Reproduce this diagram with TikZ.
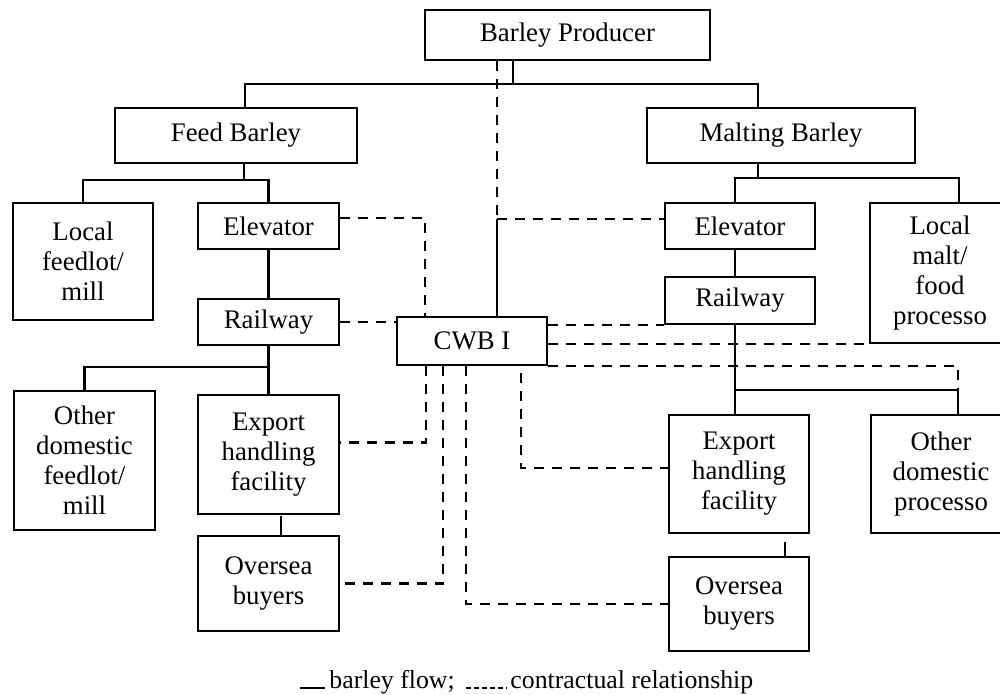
\documentclass[tikz,border=0pt]{standalone}
\usepackage{fontspec}
\setmainfont{Liberation Serif}
\usetikzlibrary{positioning}

\begin{document}
\begin{tikzpicture}[
  x=0.5pt,y=-0.5pt,
  font=\fontsize{13.4}{15}\selectfont,
  node distance=24pt,
  box/.style={draw,line width=1pt,inner sep=0pt,align=center},
  cell/.style={box,minimum width=70.5pt},
  flow/.style={line width=1.3pt},
  contract/.style={line width=1.3pt,dash pattern=on 5pt off 4pt},
  key/.style={anchor=base west,inner sep=0pt,font=\fontsize{12.9}{15}\selectfont}
]
\useasboundingbox (0,0) rectangle (1000,695);

% top of the chain
\node[box,minimum width=142.5pt,minimum height=25pt] (prod) at (567.5,35) {Barley Producer};
\node[box,minimum width=121pt,minimum height=27.5pt] (feed) at (236,135.5) {Feed Barley};
\node[box,minimum width=134pt,minimum height=27.5pt] (malt) at (781,135.5) {Malting Barley};

% feed barley side
\node[cell,minimum width=70pt,minimum height=58.5pt] (lfeed) at (83,261.5) {Local\\feedlot/\\mill};
\node[cell,minimum height=23pt] (lelev) at (268.5,226) {Elevator};
\node[cell,minimum height=23pt,below=of lelev] (lrail) {Railway};
\node[cell,minimum height=59.5pt,below=of lrail] (lexp) {Export\\handling\\facility};
\node[cell,minimum height=47.5pt,below=10pt of lexp] (lover) {Oversea\\buyers};
\node[cell,minimum height=69.5pt] (lother) at (84.5,460.5) {Other\\domestic\\feedlot/\\mill};

% the board
\node[box,minimum width=75pt,minimum height=24pt] (cwb) at (472,341) {CWB I};

% malting barley side
\node[box,minimum width=75pt,minimum height=23pt] (relev) at (740,226) {Elevator};
\node[box,minimum width=75pt,minimum height=23.5pt,below=13pt of relev] (rrail) {Railway};
\node[cell,minimum width=70pt,minimum height=70pt] (rlocal) at (940,273) {Local\\malt/\\food\\processo};
\node[cell,minimum width=70pt,minimum height=59pt] (rexp) at (739,474) {Export\\handling\\facility};
\node[cell,minimum width=70pt,minimum height=59pt,right=30pt of rexp] (rother) {Other\\domestic\\processo};
\node[cell,minimum width=70pt,minimum height=47pt,below=11pt of rexp] (rover) {Oversea\\buyers};

% barley flow
\coordinate (trunk) at (513,84);
\coordinate (feedtap) at (245,84);
\coordinate (malttap) at (758,84);
\draw[flow] (prod.south -| trunk) -- (trunk);
\draw[flow] (feed.north -| feedtap) -- (feedtap) -- (malttap) -- (malt.north -| malttap);

\coordinate (feedfork) at (244,180);
\draw[flow] (feed.south -| feedfork) -- (feedfork);
\draw[flow] (lfeed.north) |- (feedfork) -| (lelev.north);
\draw[flow] (lelev) -- (lrail);
\draw[flow] (lrail) -- (lexp);
\coordinate (railfork) at (268.5,367);
\draw[flow] (lother.north) |- (railfork);
\coordinate (lexptap) at (281,516);
\draw[flow] (lexptap) -- (lover.north -| lexptap);

\coordinate (maltfork) at (758,178);
\coordinate (maltleft) at (735,178);
\coordinate (maltright) at (959,178);
\draw[flow] (malt.south -| maltfork) -- (maltfork);
\draw[flow] (relev.north -| maltleft) -- (maltleft) -- (maltright) -- (rlocal.north -| maltright);
\draw[flow] (relev.south -| maltleft) -- (rrail.north -| maltleft);
\draw[flow] (rrail.south -| maltleft) -- (rexp.north -| maltleft);
\coordinate (rrailfork) at (735,390);
\coordinate (rothertap) at (958,390);
\draw[flow] (rrailfork) -- (rothertap) -- (rother.north -| rothertap);
\coordinate (rexptap) at (785,542);
\draw[flow] (rexptap) -- (rover.north -| rexptap);

% contractual relationship
\coordinate (cwbtrunk) at (497,219);
\draw[contract] (prod.south -| cwbtrunk) -- (cwbtrunk);
\draw[flow] (cwbtrunk) -- (cwb.north -| cwbtrunk);
\draw[contract] (cwbtrunk) -- (relev.west |- cwbtrunk);
\coordinate (lelevbend) at (425,218);
\draw[contract] (lelev.east |- lelevbend) -- (lelevbend) -- (cwb.north -| lelevbend);
\draw[contract] (lrail.east) -- (lrail.east -| cwb.west);
\draw[contract] (cwb.east |- rrail.south) -- (rrail.south west);
\draw[contract] (cwb.east |- rlocal.south) -- (rlocal.south west);
\draw[contract] (cwb.south east) -- (cwb.south east -| rothertap) -- (rother.north -| rothertap);
\draw[contract] ([xshift=15pt]cwb.south west) |- ([yshift=6pt]lexp.east);
\draw[contract] ([xshift=23.5pt]cwb.south west) |- (lover.east);
\draw[contract] ([xshift=35pt]cwb.south west) |- (rover.west);
\draw[contract] ([xshift=62.5pt,yshift=-3.5pt]cwb.south west) |- ([yshift=3pt]rexp.west);

% key
\node[key] (flowkey) at (329,688) {barley flow;};
\node[key] (contractkey) at (510,688) {contractual relationship};
\draw[line width=0.6pt] ([xshift=-14.5pt]flowkey.base west) -- ([xshift=-2pt]flowkey.base west);
\draw[line width=0.6pt,dash pattern=on 2.5pt off 1.5pt] ([xshift=-22pt]contractkey.base west) -- ([xshift=-1.5pt]contractkey.base west);
\end{tikzpicture}
\end{document}
